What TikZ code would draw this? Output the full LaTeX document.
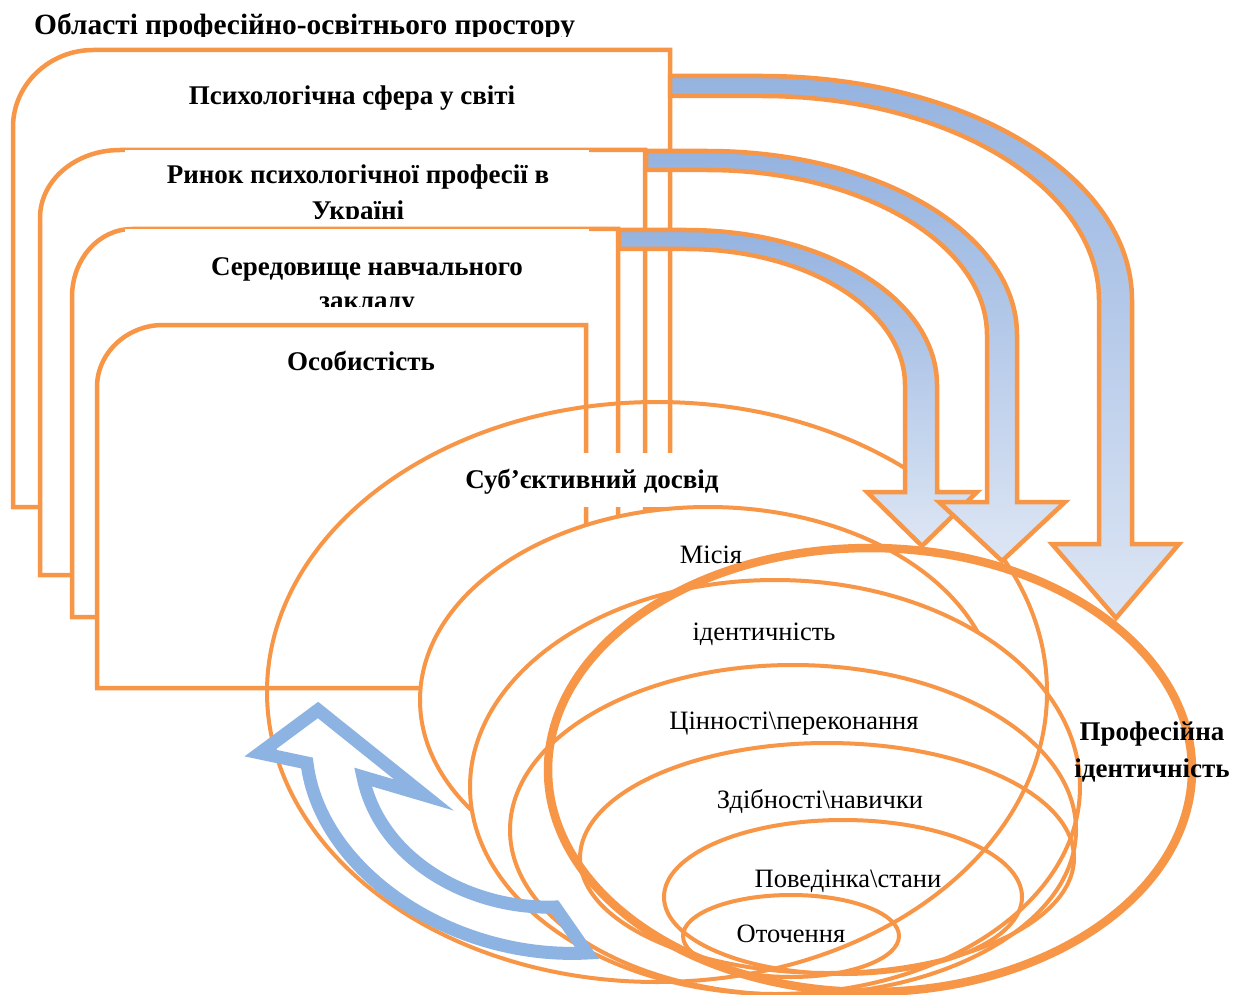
\documentclass[tikz,border=0pt]{standalone}
\usepackage{fontspec}
\setmainfont{Liberation Serif}
\definecolor{org}{HTML}{F79646}
\definecolor{blu}{HTML}{8DB3E2}
\definecolor{shtop}{HTML}{95B3E0}
\definecolor{shbot}{HTML}{DDE6F4}
\tikzset{
  boxshape/.style={draw=org, line width=4.5pt, fill=white, line join=miter},
  ell/.style={draw=org, line width=4pt},
  thickell/.style={draw=org, line width=8.5pt},
  btxt/.style={font=\fontsize{27}{32}\selectfont\bfseries, inner sep=0pt, anchor=base},
  rtxt/.style={font=\fontsize{26.5}{30}\selectfont, inner sep=0pt, anchor=base},
  barrow/.style={draw=org, line width=4.5pt, top color=shtop, bottom color=shbot, line join=miter, miter limit=20},
  backarrow/.style={draw=blu, line width=13pt, line join=miter, miter limit=20}
}
\begin{document}
\begin{tikzpicture}[x=1pt,y=-1pt]
\useasboundingbox (0,0) rectangle (1245,995);
% title
\begin{scope}
\clip (0,0) rectangle (1245,36.5);
\node[btxt, anchor=base west, font=\fontsize{29.4}{32}\selectfont\bfseries] (title) at (34,35) {Області професійно-освітнього простору};
\end{scope}
% box 1
\draw[boxshape] (13,507) -- (13,127) .. controls (13,84) and (50,50) .. (93,50) -- (670,50) -- (670,507) -- cycle;
\node[btxt] (t1) at (352,105) {Психологічна сфера у світі};
% box 2
\draw[boxshape] (40,575) -- (40,218) .. controls (40,180) and (76,150) .. (120,150) -- (645,150) -- (645,575) -- cycle;
\begin{scope}
\clip (100,152) rectangle (640,218.5);
\node[btxt] (t2a) at (358,184) {Ринок психологічної професії в};
\node[btxt] (t2b) at (358,220) {Україні};
\end{scope}
\fill[white] (125,150) rectangle (589,153);
% box 3
\draw[boxshape] (72,617) -- (72,297) .. controls (72,259) and (99,229) .. (132,229) -- (618,229) -- (618,617) -- cycle;
\begin{scope}
\clip (100,231) rectangle (610,306.5);
\node[btxt] (t3a) at (367,275) {Середовище навчального};
\node[btxt] (t3b) at (367,309) {закладу};
\end{scope}
\fill[white] (125,229) rectangle (589,232);
% box 4
\draw[boxshape] (97,688) -- (97,387) .. controls (97,353) and (127,325) .. (163,325) -- (586,325) -- (586,688) -- cycle;
\node[btxt] (t4) at (361,370) {Особистість};
% subjective experience label background
\fill[white] (462,453) rectangle (735,507);
\node[btxt] (subj) at (592,488) {Суб’єктивний досвід};
% filled inner ellipses
\draw[ell, fill=white] (708,700) ellipse [x radius=288pt, y radius=193pt];
\draw[ell, fill=white] (775,787) ellipse [x radius=305pt, y radius=207pt];
\draw[ell] (793,830) ellipse [x radius=283pt, y radius=165pt];
\draw[ell] (827,858) ellipse [x radius=247pt, y radius=115pt];
\draw[ell] (843,897) ellipse [x radius=179pt, y radius=77pt];
\draw[ell] (791,936) ellipse [x radius=108pt, y radius=41pt];
% big outer ellipse
\draw[ell] (657,692) ellipse [x radius=390pt, y radius=290pt];
% curved block arrows
\draw[barrow] (619,230) -- (686,230) .. controls (825,230) and (937,299) .. (937,385) -- (937,492) -- (977,492) -- (922,546) -- (867,492) -- (905,492) -- (905,385) .. controls (905,310) and (807,249) .. (686,249) -- (619,249) -- cycle;
\draw[barrow] (646,151) -- (707,151) .. controls (878,151) and (1017,233) .. (1017,335) -- (1017,502) -- (1065,502) -- (1002,561) -- (939,502) -- (987,502) -- (987,335) .. controls (987,244) and (862,170) .. (707,170) -- (646,170) -- cycle;
\draw[barrow] (670,76) -- (762,76) .. controls (966,76) and (1132,176) .. (1132,300) -- (1132,544) -- (1179,544) -- (1116,618) -- (1052,544) -- (1099,544) -- (1099,300) .. controls (1099,187) and (948,96) .. (762,96) -- (670,96) -- cycle;
% professional identity ellipse
\draw[thickell] (870,770) ellipse [x radius=322pt, y radius=222pt];
% labels
\node[rtxt] (mis) at (711,563) {Місія};
\node[rtxt] (ident) at (764,640) {ідентичність};
\node[rtxt] (val) at (794,729) {Цінності\textbackslash переконання};
\node[rtxt] (abil) at (820,808) {Здібності\textbackslash навички};
\node[rtxt] (beh) at (848,887) {Поведінка\textbackslash стани};
\node[rtxt] (env) at (791,942) {Оточення};
\node[btxt] (prof1) at (1152,740) {Професійна};
\node[btxt] (prof2) at (1152,777) {ідентичність};
% feedback arrow
\draw[backarrow] (318,710) -- (424,795) -- (363,777) .. controls (380,860) and (470,910) .. (555,907) -- (587,953) .. controls (450,960) and (320,870) .. (307,763) -- (260,753) -- cycle;
\end{tikzpicture}
\end{document}
